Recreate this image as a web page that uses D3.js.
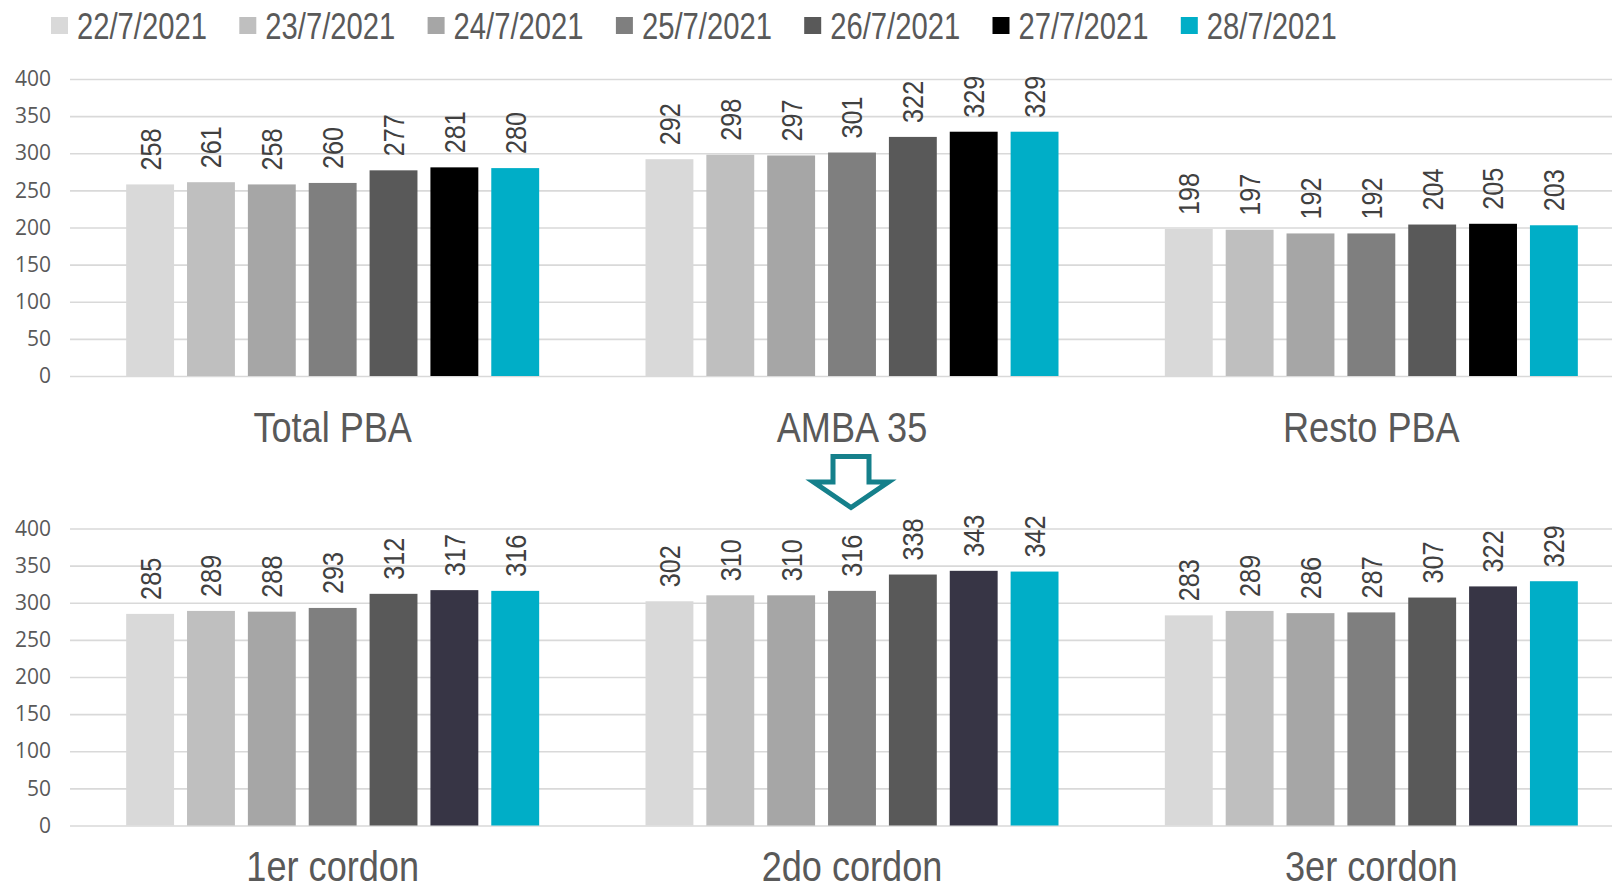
<!DOCTYPE html>
<html>
<head>
<meta charset="utf-8">
<script src="https://cdn.jsdelivr.net/npm/d3@7"></script>
<style>
  body { margin: 0; background: #fff; }
  svg { display: block; }
  .tick text { font-family: "Open Sans", "Liberation Sans", sans-serif; font-size: 21px; fill: #595959; }
</style>
</head>
<body>
<div id="chart"></div>
<script>
// series / dates
var dates = ["22/7/2021", "23/7/2021", "24/7/2021", "25/7/2021", "26/7/2021", "27/7/2021", "28/7/2021"];
var colorsTop = ["#D9D9D9", "#BFBFBF", "#A6A6A6", "#7F7F7F", "#595959", "#000000", "#00AEC7"];
var colorsBottom = ["#D9D9D9", "#BFBFBF", "#A6A6A6", "#7F7F7F", "#595959", "#373545", "#00AEC7"];

// categories
var groupsTop = ["Total PBA", "AMBA 35", "Resto PBA"];
var groupsBottom = ["1er cordon", "2do cordon", "3er cordon"];

// values, one row per category, one column per date
var valuesTop = [
    [258, 261, 258, 260, 277, 281, 280],
    [292, 298, 297, 301, 322, 329, 329],
    [198, 197, 192, 192, 204, 205, 203]
];
var valuesBottom = [
    [285, 289, 288, 293, 312, 317, 316],
    [302, 310, 310, 316, 338, 343, 342],
    [283, 289, 286, 287, 307, 322, 329]
];

var yTicks = [0, 50, 100, 150, 200, 250, 300, 350, 400];

var width = 1612, height = 892;
// no condensed face installed, so text is squeezed with scale()
var font = "'Liberation Sans', Arial, sans-serif";
var textColor = "#595959";

var svg = d3.select("#chart").append("svg")
    .attr("width", width)
    .attr("height", height);

svg.append("rect").attr("width", width).attr("height", height).attr("fill", "#fff");

// legend
var legend = svg.append("g").attr("class", "legend");
var legItem = legend.selectAll("g")
    .data(dates)
    .enter().append("g")
    .attr("transform", function(d, i) { return "translate(" + (51 + i * 188.3) + ",0)"; });
legItem.append("rect")
    .attr("x", 0).attr("y", 17)
    .attr("width", 17).attr("height", 17)
    .attr("fill", function(d, i) { return colorsTop[i]; });
legItem.append("text")
    .attr("transform", "translate(26,39) scale(0.79,1)")
    .style("font-family", font)
    .style("font-size", "37px")
    .style("fill", textColor)
    .text(function(d) { return d; });

function drawPanel(groups, values, colors, y0, y400, catY) {
    var g = svg.append("g");

    var x0 = d3.scaleBand()
        .domain(groups)
        .range([73, 1631]);

    var x1 = d3.scaleBand()
        .domain(dates)
        .range([0, 413])
        .paddingInner(0.213);

    var y = d3.scaleLinear()
        .domain([0, 400])
        .range([y0, y400]);

    // gridlines + tick labels
    var axis = d3.axisLeft(y)
        .tickValues(yTicks)
        .tickSize(-(width - 70))
        .tickPadding(19);
    var ax = g.append("g")
        .attr("transform", "translate(70,0)")
        .call(axis);
    ax.select(".domain").remove();
    ax.selectAll(".tick line")
        .attr("stroke", "#D9D9D9")
        .attr("stroke-width", 1.6);

    var groupG = g.selectAll(".grp")
        .data(groups)
        .enter().append("g")
        .attr("class", "grp")
        .attr("transform", function(d) {
            return "translate(" + (x0(d) + (x0.bandwidth() - 413) / 2) + ",0)";
        });

    groupG.selectAll("rect")
        .data(function(d, gi) {
            return values[gi].map(function(v, i) { return { date: dates[i], value: v, i: i }; });
        })
        .enter().append("rect")
        .attr("x", function(d) { return x1(d.date); })
        .attr("y", function(d) { return y(d.value); })
        .attr("width", x1.bandwidth())
        .attr("height", function(d) { return y(0) - y(d.value); })
        .attr("fill", function(d) { return colors[d.i]; });

    // rotated value labels
    groupG.selectAll("text.val")
        .data(function(d, gi) {
            return values[gi].map(function(v, i) { return { date: dates[i], value: v }; });
        })
        .enter().append("text")
        .attr("class", "val")
        .attr("transform", function(d) {
            return "translate(" + (x1(d.date) + x1.bandwidth() / 2) + "," + (y(d.value) - 14) + ") rotate(-90) scale(0.87,1)";
        })
        .attr("dy", "0.36em")
        .style("font-family", font)
        .style("font-size", "29px")
        .style("fill", "#404040")
        .text(function(d) { return d.value; });

    // category labels
    g.selectAll("text.cat")
        .data(groups)
        .enter().append("text")
        .attr("class", "cat")
        .attr("transform", function(d) {
            return "translate(" + (x0(d) + x0.bandwidth() / 2) + "," + catY + ") scale(0.86,1)";
        })
        .attr("text-anchor", "middle")
        .style("font-family", font)
        .style("font-size", "42px")
        .style("fill", textColor)
        .text(function(d) { return d; });
}

drawPanel(groupsTop, valuesTop, colorsTop, 376, 79, 442);
drawPanel(groupsBottom, valuesBottom, colorsBottom, 825.5, 528.5, 881);

// down arrow between the panels
var cx = 851;
var arrow = [
    [cx - 18, 456.5], [cx + 18, 456.5], [cx + 18, 482], [cx + 37.5, 482],
    [cx, 507.5], [cx - 37.5, 482], [cx - 18, 482]
];
svg.append("path")
    .attr("d", d3.line()(arrow) + "Z")
    .attr("fill", "#fff")
    .attr("stroke", "#15808B")
    .attr("stroke-width", 5)
    .attr("stroke-linejoin", "miter");
</script>
</body>
</html>
